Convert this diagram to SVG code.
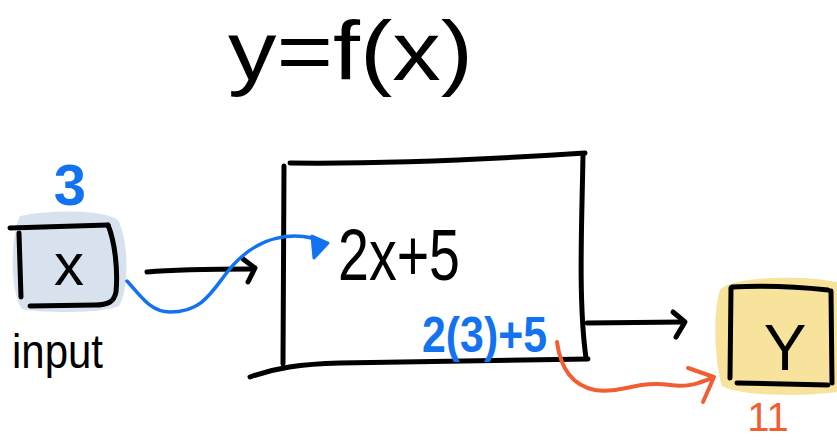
<svg xmlns="http://www.w3.org/2000/svg" width="837" height="442" viewBox="0 0 837 442">
<style>
.ink{fill:none;stroke:#000;stroke-width:5;stroke-linecap:round;stroke-linejoin:round}
.blue{fill:none;stroke:#1372f0;stroke-width:3.5;stroke-linecap:round;stroke-linejoin:round}
.orange{fill:none;stroke:#f05f33;stroke-width:4;stroke-linecap:round;stroke-linejoin:round}
.t{font-family:"Liberation Sans",Arial,sans-serif;fill:#000}
.tb{font-family:"Liberation Sans",Arial,sans-serif;fill:#1372f0;font-weight:bold}
.to{font-family:"Liberation Sans",Arial,sans-serif;fill:#f05f33}
</style>
<rect width="837" height="442" fill="#fff"/>
<g id="title">
<text class="t" x="228" y="80" font-size="84" textLength="245" lengthAdjust="spacingAndGlyphs">y=f(x)</text>
</g>
<g id="input-node">
<path d="M20,216 C50,210 100,209 118,220 C129,240 129,290 119,306 C100,314 40,313 22,309 C11,295 9,240 20,216 Z" fill="#d8e2ee"/>
<path class="ink" d="M10,228 L108,225"/>
<path class="ink" d="M19,233 L21,297"/>
<path class="ink" d="M108,225 C115,242 118,270 116,292 C114,302 108,305 95,305 L30,306"/>
<text class="t" x="69" y="285" font-size="60" text-anchor="middle">x</text>
<text class="tb" x="70" y="205" font-size="58" text-anchor="middle">3</text>
<text class="t" x="12" y="368" font-size="48" textLength="91" lengthAdjust="spacingAndGlyphs">input</text>
</g>
<g id="function-node">
<path class="ink" d="M290,163 C380,164 480,160 585,153"/>
<path class="ink" d="M284,166 L283,364"/>
<path class="ink" d="M583,154 C582,220 578,300 586,358"/>
<path class="ink" d="M250,377 C275,368 300,364 340,363 C440,361 520,360 588,359"/>
<text class="t" x="338" y="280" font-size="72" textLength="122" lengthAdjust="spacingAndGlyphs">2x+5</text>
<text class="tb" x="422" y="352" font-size="50" textLength="125" lengthAdjust="spacingAndGlyphs">2(3)+5</text>
</g>
<g id="output-node">
<path d="M720,290 C730,277 800,275 830,281 L837,282 L837,392 C800,397 740,396 722,386 C714,360 713,310 720,290 Z" fill="#f8e39c"/>
<path class="ink" d="M732,287 C770,285 800,287 828,290"/>
<path class="ink" d="M831,291 L832,383"/>
<path class="ink" d="M731,288 L730,378"/>
<path class="ink" d="M737,383 L828,385"/>
<text class="t" x="785" y="370" font-size="64" text-anchor="middle">Y</text>
<text class="to" x="768" y="431" font-size="40" text-anchor="middle">11</text>
</g>
<g id="connectors">
<path class="ink" stroke-width="6" d="M147,272 C180,269 220,269 253,269"/>
<path class="ink" stroke-width="6" d="M243,259 L255,268 L248,282"/>
<path class="ink" stroke-width="6" d="M587,323 L683,322"/>
<path class="ink" stroke-width="6" d="M673,312 L685,322 L676,337"/>
<path class="blue" d="M127,281 C140,295 150,312 170,312 C200,312 210,295 225,275 C245,248 270,236 295,236 C310,236 318,240 322,243"/>
<path d="M312,236 L328,243 L314,258 Z" fill="#1372f0" stroke="#1372f0" stroke-width="3" stroke-linejoin="round"/>
<path class="orange" d="M557,342 C560,365 570,385 595,390 C620,394 640,380 670,385 C690,388 700,382 712,378"/>
<path class="orange" stroke-width="5" d="M688,368 L714,377 L703,402"/>
</g>
</svg>
